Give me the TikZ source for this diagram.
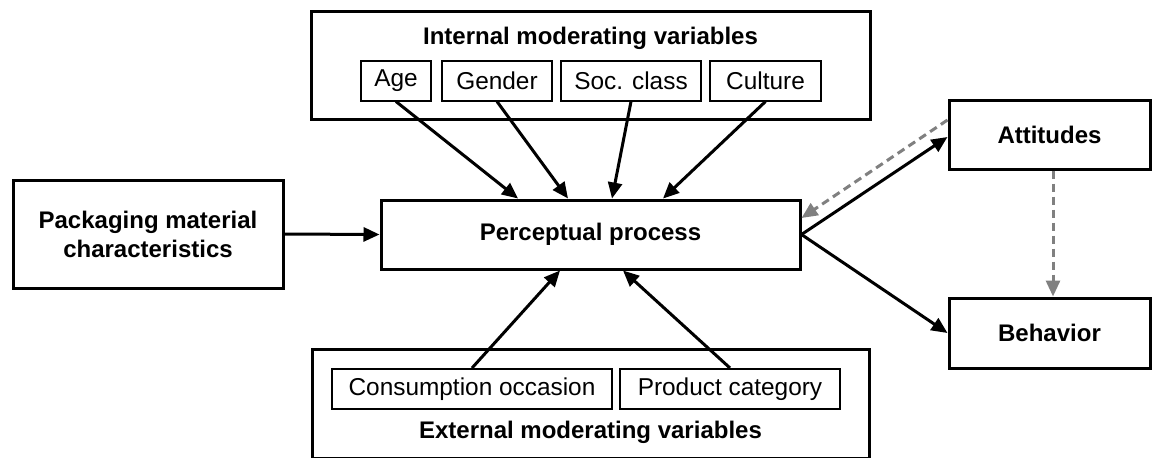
\documentclass[tikz,border=0pt]{standalone}
\usepackage{fontspec}
\setmainfont{Liberation Sans}
\usetikzlibrary{arrows.meta,calc}

\begin{document}
\begin{tikzpicture}[x=0.5pt,y=-0.5pt,
		box/.style={draw,line width=1.5pt,inner sep=0pt,align=center,font=\fontsize{12}{14.5}\selectfont\bfseries},
		title/.style={inner sep=0pt,font=\fontsize{12}{14.5}\selectfont\bfseries},
		var/.style={draw,line width=1pt,inner sep=0pt,minimum height=20pt,font=\fontsize{12.2}{14}\selectfont},
		arr/.style={-{Triangle[length=8pt,width=7pt]},line width=1.5pt},
		back/.style={arr,gray,dash pattern=on 4pt off 2.5pt}]
			\useasboundingbox (0,0) rectangle (1152,457);
			% internal moderators
			\node[box,minimum width=279.5pt,minimum height=54pt] (internal) at (590.5,65) {};
			\node[title] (intitle) at (590.5,38) {Internal moderating variables};
			\node[var,minimum width=35pt] (age) at (396,80.5) {Age};
			\node[var,minimum width=55pt] (gender) at (497,80.5) {Gender};
			\node[var,minimum width=70pt] (soc) at (631,80.5) {Soc. class};
			\node[var,minimum width=55.5pt] (culture) at (765.5,80.5) {Culture};
			% main row
			\node[box,minimum width=135pt,minimum height=54pt] (pack) at (148,234) {Packaging material\\characteristics};
			\node[box,minimum width=209.5pt,minimum height=34.5pt] (perc) at (590.5,234.5) {Perceptual process};
			\node[box,minimum width=100.5pt,minimum height=34.5pt] (att) at (1049.5,134.5) {Attitudes};
			\node[box,minimum width=100.5pt,minimum height=35pt] (beh) at (1049.5,333) {Behavior};
			% external moderators
			\node[box,minimum width=278.5pt,minimum height=54.5pt] (external) at (590.5,403.5) {};
			\node[var,minimum width=140pt] (cons) at (472,389) {Consumption occasion};
			\node[var,minimum width=110pt] (prod) at (730,389) {Product category};
			\node[title] (extitle) at (590.5,432) {External moderating variables};
			% arrows
			\draw[arr] (age.south) to ($(perc.north)+(-72.5,0)$);
			\draw[arr] (gender.south) to ($(perc.north)+(-22.5,0)$);
			\draw[arr] (soc.south) to ($(perc.north)+(21.5,0)$);
			\draw[arr] (culture.south) to ($(perc.north)+(72.5,0)$);
			\draw[arr] (cons.north) to ($(perc.south)+(-30.5,0)$);
			\draw[arr] (prod.north) to ($(perc.south)+(32.5,0)$);
			\draw[arr] (pack.east) to (perc.west);
			\draw[arr] (perc.east) to ($(att.west)+(0,2.5)$);
			\draw[arr] (perc.east) to (beh.west);
			\draw[back] ($(att.west)+(0,-14.5)$) to ($(perc.east)+(0,-16.5)$);
			\draw[back] ($(att.south)+(3.5,0)$) to ($(beh.north)+(3.5,0)$);
		\end{tikzpicture}
\end{document}
